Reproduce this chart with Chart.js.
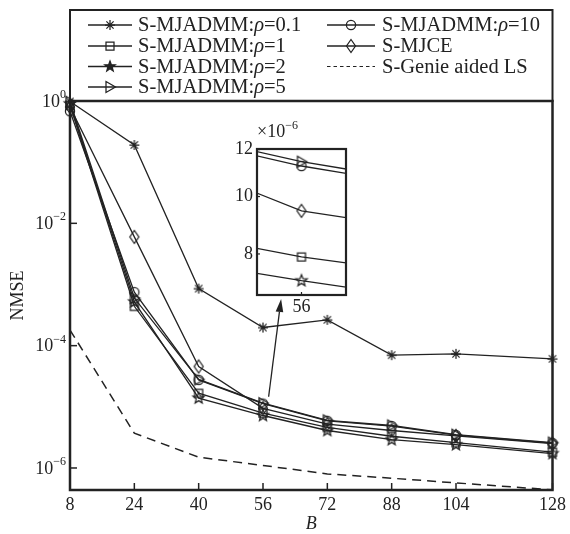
<!DOCTYPE html>
<html><head><meta charset="utf-8">
<script src="https://cdn.jsdelivr.net/npm/chart.js@4.4.1/dist/chart.umd.min.js"></script>
<style>
body{margin:0;background:#fff;}
#wrap{position:relative;width:570px;height:534px;overflow:hidden;}
#main{position:absolute;left:0;top:0;}
#inset{position:absolute;left:225px;top:120px;}
</style></head>
<body><div id="wrap"><canvas id="main" width="570" height="534"></canvas><canvas id="inset" width="130" height="200"></canvas></div>
<script>
// ---------------- data ----------------
const B = [8, 24, 40, 56, 72, 88, 104, 128];
const nmseRho01 = [0.98, 0.191, 8.57e-4, 1.98e-4, 2.64e-4, 7.0e-5, 7.35e-5, 6.08e-5];
const nmseRho1  = [0.85, 4.4e-4, 1.67e-5, 7.91e-6, 4.6e-6, 3.3e-6, 2.6e-6, 1.82e-6];
const nmseRho2  = [0.90, 5.2e-4, 1.39e-5, 7.21e-6, 4.1e-6, 2.9e-6, 2.4e-6, 1.72e-6];
const nmseRho5  = [0.97, 6.0e-4, 2.8e-5, 1.145e-5, 6.0e-6, 4.95e-6, 3.5e-6, 2.6e-6];
const nmseRho10 = [0.68, 7.5e-4, 2.76e-5, 1.126e-5, 5.9e-6, 4.85e-6, 3.45e-6, 2.55e-6];
const nmseMJCE  = [0.80, 6.0e-3, 4.57e-5, 9.46e-6, 5.2e-6, 4.1e-6, 3.35e-6, 2.5e-6];
const nmseGenie = [1.8e-4, 3.7e-6, 1.5e-6, 1.1e-6, 8.0e-7, 6.8e-7, 5.7e-7, 4.4e-7];

const seriesNames = ['S-MJADMM:ρ=0.1', 'S-MJADMM:ρ=1', 'S-MJADMM:ρ=2', 'S-MJADMM:ρ=5',
                     'S-MJADMM:ρ=10', 'S-MJCE', 'S-Genie aided LS'];
const xTickValues = [8, 24, 40, 56, 72, 88, 104, 128];
const yTickExponents = [0, -2, -4, -6];
const insetYTicks = [8, 10, 12];      // x 10^-6
const insetXTicks = [56];
const insetScaleExp = -6;
// arrow annotation (data units): tail -> tip
const arrowTail = {x: 57.4, y: 1.46e-5};
const arrowTip  = {x: 60.5, y: 5.8e-4};

// ---------------- styling ----------------
const INK = '#222';
const SERIF = '"Liberation Serif", "Times New Roman", serif';
const markerKinds = ['asterisk', 'square', 'star', 'triangle', 'circle', 'diamond', 'none'];

function drawMarker(ctx, kind, x, y, filled) {
  ctx.save();
  ctx.strokeStyle = INK; ctx.fillStyle = INK; ctx.lineWidth = 1.25; ctx.setLineDash([]);
  ctx.beginPath();
  if (kind === 'asterisk') {
    const r = 5, d = r * 0.72;
    ctx.moveTo(x - r, y); ctx.lineTo(x + r, y);
    ctx.moveTo(x, y - r); ctx.lineTo(x, y + r);
    ctx.moveTo(x - d, y - d); ctx.lineTo(x + d, y + d);
    ctx.moveTo(x - d, y + d); ctx.lineTo(x + d, y - d);
    ctx.stroke();
  } else if (kind === 'square') {
    ctx.rect(x - 4, y - 4, 8, 8); ctx.stroke();
  } else if (kind === 'star') {
    const ro = filled ? 5.5 : 6, ri = filled ? 2.3 : 2.6;
    for (let i = 0; i < 10; i++) {
      const r = i % 2 ? ri : ro, a = -Math.PI / 2 + i * Math.PI / 5;
      const px = x + r * Math.cos(a), py = y + r * Math.sin(a);
      i ? ctx.lineTo(px, py) : ctx.moveTo(px, py);
    }
    ctx.closePath(); if (filled) ctx.fill(); ctx.stroke();
  } else if (kind === 'triangle') {
    ctx.moveTo(x - 4, y - 5.5); ctx.lineTo(x + 5.5, y); ctx.lineTo(x - 4, y + 5.5); ctx.closePath(); ctx.stroke();
  } else if (kind === 'circle') {
    ctx.arc(x, y, 4.6, 0, Math.PI * 2); ctx.stroke();
  } else if (kind === 'diamond') {
    ctx.moveTo(x, y - 6.5); ctx.lineTo(x + 4.5, y); ctx.lineTo(x, y + 6.5); ctx.lineTo(x - 4.5, y); ctx.closePath(); ctx.stroke();
  }
  ctx.restore();
}
function markerCanvas(kind) {
  const c = document.createElement('canvas'); c.width = 18; c.height = 18;
  drawMarker(c.getContext('2d'), kind, 9, 9, false);
  return c;
}

function makeDatasets(big) {
  const all = [nmseRho01, nmseRho1, nmseRho2, nmseRho5, nmseRho10, nmseMJCE, nmseGenie];
  return all.map((arr, i) => {
    const isGenie = i === 6;
    return {
      label: seriesNames[i],
      data: B.map((b, k) => ({x: b, y: arr[k]})),
      borderColor: INK,
      borderWidth: isGenie ? 1.5 : 1.3,
      borderDash: isGenie ? [9, 6] : [],
      pointStyle: isGenie ? false : markerCanvas(markerKinds[i]),
      pointRadius: isGenie ? 0 : 5,
      tension: 0,
      clip: big ? false : undefined,
      fill: false
    };
  });
}

// ---------------- main chart plugins ----------------
const mainDecor = {
  id: 'mainDecor',
  afterDraw(chart) {
    const ctx = chart.ctx, a = chart.chartArea, xs = chart.scales.x, ys = chart.scales.y;
    ctx.save();
    ctx.strokeStyle = INK; ctx.fillStyle = INK;
    // inward ticks
    ctx.lineWidth = 1.5;
    xTickValues.forEach(v => {
      const px = xs.getPixelForValue(v);
      ctx.beginPath(); ctx.moveTo(px, a.bottom); ctx.lineTo(px, a.bottom - 7); ctx.stroke();
    });
    yTickExponents.forEach(e => {
      const py = ys.getPixelForValue(Math.pow(10, e));
      ctx.beginPath(); ctx.moveTo(a.left, py); ctx.lineTo(a.left + 7, py); ctx.stroke();
    });
    // frame
    ctx.lineWidth = 2.5;
    ctx.strokeRect(a.left, a.top, a.right - a.left, a.bottom - a.top);
    // y tick labels 10^e
    ctx.textBaseline = 'middle';
    yTickExponents.forEach(e => {
      const py = ys.getPixelForValue(Math.pow(10, e));
      const ex = e === 0 ? '0' : '\u2212' + Math.abs(e);
      ctx.font = '12px ' + SERIF;
      const we = ctx.measureText(ex).width;
      ctx.textAlign = 'right';
      ctx.fillText(ex, 66, py - 6);
      ctx.font = '18px ' + SERIF;
      ctx.fillText('10', 66 - we, py + 1);
    });
    // axis titles
    ctx.textAlign = 'center';
    ctx.font = 'italic 18px ' + SERIF;
    ctx.fillText('B', (a.left + a.right) / 2, 524);
    ctx.save();
    ctx.translate(18, (a.top + a.bottom) / 2);
    ctx.rotate(-Math.PI / 2);
    ctx.font = '18px ' + SERIF;
    ctx.fillText('NMSE', 0, 0);
    ctx.restore();
    // arrow
    const tx = xs.getPixelForValue(arrowTail.x), ty = ys.getPixelForValue(arrowTail.y);
    const hx = xs.getPixelForValue(arrowTip.x), hy = ys.getPixelForValue(arrowTip.y);
    const ang = Math.atan2(hy - ty, hx - tx), hl = 13, hw = 3.8;
    const bx = hx - hl * Math.cos(ang), by = hy - hl * Math.sin(ang);
    ctx.lineWidth = 1.3;
    ctx.beginPath(); ctx.moveTo(tx, ty); ctx.lineTo(bx, by); ctx.stroke();
    ctx.beginPath(); ctx.moveTo(hx, hy);
    ctx.lineTo(bx + hw * Math.sin(ang), by - hw * Math.cos(ang));
    ctx.lineTo(bx - hw * Math.sin(ang), by + hw * Math.cos(ang));
    ctx.closePath(); ctx.fill();
    // legend box
    const L = a.left, R = a.right, T = 10, Bt = a.top;
    ctx.lineWidth = 2;
    ctx.strokeRect(L, T, R - L, Bt - T);
    const rows = [25, 46, 66.5, 87];
    const cols = [{l0: 88, l1: 132, tx: 138}, {l0: 327, l1: 375, tx: 382}];
    const place = [[0,0],[0,1],[0,2],[0,3],[1,0],[1,1],[1,2]];
    seriesNames.forEach((name, i) => {
      const c = cols[place[i][0]], y = rows[place[i][1]];
      ctx.save();
      ctx.strokeStyle = INK; ctx.lineWidth = i === 6 ? 1.1 : 1.4;
      ctx.setLineDash(i === 6 ? [3.5, 3] : []);
      ctx.beginPath(); ctx.moveTo(c.l0, y); ctx.lineTo(c.l1, y); ctx.stroke();
      ctx.restore();
      drawMarker(ctx, markerKinds[i], (c.l0 + c.l1) / 2, y, markerKinds[i] === 'star');
      // text with italic rho
      ctx.textAlign = 'left'; ctx.textBaseline = 'middle';
      let x = c.tx;
      const parts = name.split('ρ');
      parts.forEach((p, k) => {
        ctx.font = '20.5px ' + SERIF;
        ctx.fillText(p, x, y + 1); x += ctx.measureText(p).width;
        if (k < parts.length - 1) {
          ctx.font = 'italic 20.5px ' + SERIF;
          ctx.fillText('ρ', x, y + 1); x += ctx.measureText('ρ').width;
        }
      });
    });
    ctx.restore();
  }
};

new Chart(document.getElementById('main'), {
  type: 'line',
  data: {datasets: makeDatasets(true)},
  options: {
    responsive: false, animation: false, events: [],
    layout: {padding: {left: 0, right: 9, top: 101, bottom: 0}},
    plugins: {legend: {display: false}, tooltip: {enabled: false}},
    scales: {
      x: {
        type: 'linear', min: 8, max: 128,
        afterBuildTicks: s => { s.ticks = xTickValues.map(v => ({value: v})); },
        afterFit: s => { s.height = 44; },
        grid: {display: false, drawTicks: false}, border: {display: false},
        ticks: {color: INK, font: {family: SERIF, size: 18}, padding: 4, maxRotation: 0, autoSkip: false,
                callback: v => String(v)}
      },
      y: {
        type: 'logarithmic', min: Math.pow(10, -6.36), max: 1,
        afterBuildTicks: s => { s.ticks = yTickExponents.map(e => ({value: Math.pow(10, e)})); },
        afterFit: s => { s.width = 70; },
        grid: {display: false, drawTicks: false}, border: {display: false},
        ticks: {display: false}
      }
    }
  },
  plugins: [mainDecor]
});

// ---------------- inset chart ----------------
const insetDecor = {
  id: 'insetDecor',
  beforeDatasetsDraw(chart) {
    const ctx = chart.ctx, a = chart.chartArea;
    ctx.save(); ctx.fillStyle = '#fff'; ctx.fillRect(a.left, a.top, a.right - a.left, a.bottom - a.top); ctx.restore();
  },
  afterDraw(chart) {
    const ctx = chart.ctx, a = chart.chartArea, xs = chart.scales.x, ys = chart.scales.y;
    ctx.save();
    ctx.strokeStyle = INK; ctx.fillStyle = INK;
    ctx.lineWidth = 1.2;
    insetYTicks.forEach(v => {
      const py = ys.getPixelForValue(v * Math.pow(10, insetScaleExp));
      ctx.beginPath(); ctx.moveTo(a.left, py); ctx.lineTo(a.left + 3, py); ctx.stroke();
    });
    insetXTicks.forEach(v => {
      const px = xs.getPixelForValue(v);
      ctx.beginPath(); ctx.moveTo(px, a.bottom); ctx.lineTo(px, a.bottom - 3); ctx.stroke();
    });
    ctx.lineWidth = 2.2;
    ctx.strokeRect(a.left, a.top, a.right - a.left, a.bottom - a.top);
    // x10^-6 label
    ctx.textBaseline = 'middle'; ctx.textAlign = 'left';
    ctx.font = '18px ' + SERIF;
    const base = '\u00d710';
    ctx.fillText(base, a.left, a.top - 17);
    const w = ctx.measureText(base).width;
    ctx.font = '12px ' + SERIF;
    ctx.fillText('\u2212' + Math.abs(insetScaleExp), a.left + w, a.top - 23);
    ctx.restore();
  }
};

new Chart(document.getElementById('inset'), {
  type: 'line',
  data: {datasets: makeDatasets(false)},
  options: {
    responsive: false, animation: false, events: [],
    layout: {padding: {left: 0, right: 9, top: 29, bottom: 0}},
    plugins: {legend: {display: false}, tooltip: {enabled: false}},
    scales: {
      x: {
        type: 'linear', min: 55.3, max: 56.7,
        afterBuildTicks: s => { s.ticks = insetXTicks.map(v => ({value: v})); },
        afterFit: s => { s.height = 25; },
        grid: {display: false, drawTicks: false}, border: {display: false},
        ticks: {color: INK, font: {family: SERIF, size: 18}, padding: 1, maxRotation: 0, autoSkip: false,
                callback: v => String(v)}
      },
      y: {
        type: 'logarithmic', min: 6.82e-6, max: 12.03e-6,
        afterBuildTicks: s => { s.ticks = insetYTicks.map(v => ({value: v * Math.pow(10, insetScaleExp)})); },
        afterFit: s => { s.width = 32; },
        grid: {display: false, drawTicks: false}, border: {display: false},
        ticks: {color: INK, font: {family: SERIF, size: 18}, padding: 4, autoSkip: false,
                callback: v => String(Math.round(v / Math.pow(10, insetScaleExp)))}
      }
    }
  },
  plugins: [insetDecor]
});
</script>
</body></html>
